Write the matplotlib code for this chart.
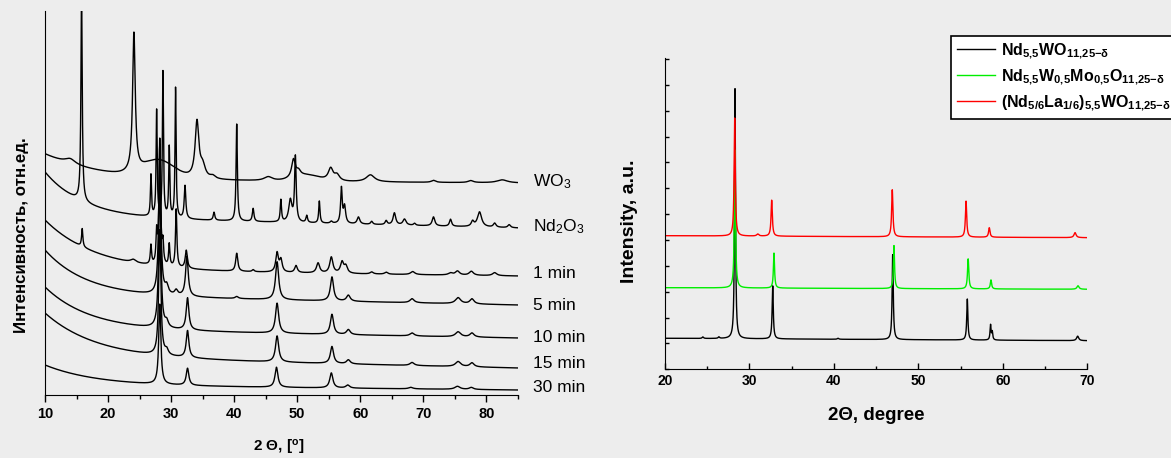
import matplotlib
matplotlib.use("Agg")
import matplotlib.pyplot as plt
from matplotlib.ticker import MultipleLocator, NullFormatter
import numpy as np

plt.rcParams['font.family'] = ['Liberation Sans', 'DejaVu Sans']
plt.rcParams['font.weight'] = 'bold'
plt.rcParams['axes.labelweight'] = 'bold'
plt.rcParams['mathtext.fontset'] = 'custom'
plt.rcParams['mathtext.rm'] = 'Liberation Sans:bold'
plt.rcParams['mathtext.it'] = 'Liberation Sans:bold:italic'
plt.rcParams['mathtext.bf'] = 'Liberation Sans:bold'

BG = '#ededed'

# ---- left panel: patterns vs milling time (values in plot units, peaks = (2theta, height, hwhm))
left_labels = ['WO$\\mathregular{_3}$', 'Nd$\\mathregular{_2}$O$\\mathregular{_3}$',
               '1 min', '5 min', '10 min', '15 min', '30 min']
left_label_y = [213, 168, 121, 90, 57, 31, 8]

# background: (level at 85 deg, excess at 10 deg, decay, tilt)
wo3_bg = (212, 26, 8.9, 3)
nd2o3_bg = (167, 45, 6.0, 11)
min1_bg = (119, 50, 8.0, 6)
min5_bg = (90, 45, 6.5, 10)
min10_bg = (57, 42, 7.0, 9)
min15_bg = (27, 44, 8.0, 11)
min30_bg = (5, 20, 8.0, 5)

# broad amorphous humps (2theta, height, sigma)
wo3_humps = [(28.0, 17, 2.5), (51.5, 6, 2.0)]

wo3_peaks = [(14.0, 5, 1.0), (24.1, 138, 0.25), (34.1, 56, 0.35), (35.0, 12, 0.5),
             (36.6, 3, 0.5), (45.4, 4, 0.8), (49.4, 18, 0.35), (50.2, 5, 0.4),
             (55.3, 12, 0.45), (56.3, 6, 0.5), (61.6, 7, 0.8), (71.6, 2, 0.4),
             (77.5, 2, 0.5), (82.5, 3, 1.0)]
nd2o3_peaks = [(15.8, 210, 0.12), (26.8, 41, 0.1), (27.7, 106, 0.1), (28.7, 145, 0.1),
               (29.7, 70, 0.1), (30.7, 130, 0.1), (32.2, 33, 0.15), (36.8, 8, 0.15),
               (40.4, 97, 0.12), (43.0, 13, 0.15), (47.4, 22, 0.12), (48.9, 22, 0.3),
               (49.7, 65, 0.15), (51.5, 7, 0.15), (53.5, 22, 0.12), (55.4, 2, 0.2),
               (57.0, 35, 0.15), (57.5, 17, 0.2), (59.7, 7, 0.25), (61.8, 3, 0.2),
               (64.1, 4, 0.2), (65.4, 12, 0.25), (67.0, 6, 0.3), (68.6, 2, 0.2),
               (71.6, 9, 0.25), (74.3, 7, 0.2), (77.8, 5, 0.25), (78.9, 15, 0.4),
               (81.3, 4, 0.25), (83.6, 3, 0.25)]
min1_peaks = [(15.9, 18, 0.12), (24.0, 3, 0.5), (26.8, 19, 0.12), (27.7, 30, 0.12),
              (28.2, 125, 0.15), (28.7, 20, 0.12), (29.7, 22, 0.12), (30.8, 58, 0.13),
              (32.4, 18, 0.2), (40.4, 18, 0.2), (43.0, 2, 0.2), (46.8, 19, 0.25),
              (47.4, 12, 0.25), (49.8, 7, 0.25), (53.3, 10, 0.3), (55.4, 16, 0.3),
              (57.1, 11, 0.3), (57.7, 7, 0.3), (61.8, 2, 0.3), (64.1, 2, 0.3),
              (68.3, 3, 0.4), (74.3, 2, 0.4), (75.4, 4, 0.4), (77.6, 4, 0.4), (81.3, 3, 0.4)]
min5_peaks = [(28.2, 150, 0.2), (29.3, 8, 0.3), (30.8, 5, 0.3), (32.5, 40, 0.25),
              (40.4, 2, 0.3), (46.8, 38, 0.3), (55.5, 24, 0.3), (58.1, 6, 0.35),
              (68.2, 4, 0.4), (75.5, 6, 0.5), (77.7, 5, 0.4)]
min10_peaks = [(28.2, 150, 0.2), (29.3, 6, 0.3), (32.6, 32, 0.25), (46.8, 30, 0.3),
               (55.5, 20, 0.3), (58.1, 5, 0.35), (68.2, 3, 0.4), (75.5, 5, 0.5),
               (77.7, 4, 0.4)]
min15_peaks = [(28.2, 125, 0.2), (29.3, 5, 0.3), (32.6, 27, 0.25), (46.8, 26, 0.3),
               (55.5, 17, 0.3), (58.1, 4, 0.35), (68.2, 3, 0.4), (75.5, 5, 0.5),
               (77.7, 4, 0.4)]
min30_peaks = [(28.2, 80, 0.2), (32.6, 17, 0.25), (46.7, 20, 0.28), (55.4, 15, 0.3),
               (58.0, 3, 0.35), (68.0, 1.5, 0.4), (75.4, 3, 0.5), (77.6, 2, 0.4)]

# ---- right panel: three single-phase samples
right_names = ['$\\mathregular{Nd_{5{,}5}WO_{11{,}25{-}δ}}$',
               '$\\mathregular{Nd_{5{,}5}W_{0{,}5}Mo_{0{,}5}O_{11{,}25{-}δ}}$',
               '$\\mathregular{(Nd_{5/6}La_{1/6})_{5{,}5}WO_{11{,}25{-}δ}}$']
right_colors = ['#000000', '#00ee00', '#ff0000']
# baseline at 20 deg and at 70 deg
black_base = (31.0, 28.6)
green_base = (81.6, 80.0)
red_base = (133.6, 131.6)
black_peaks = [(24.5, 1.5, 0.1), (26.4, 1.5, 0.1), (28.31, 250, 0.07), (32.77, 53, 0.08),
               (40.5, 1, 0.1), (46.97, 85, 0.08), (55.8, 41, 0.08), (58.55, 15, 0.07),
               (58.75, 8, 0.07), (68.86, 4.5, 0.15)]
green_peaks = [(28.3, 138, 0.08), (32.92, 35, 0.08), (47.12, 43, 0.08), (55.9, 30, 0.09),
               (58.6, 9, 0.09), (68.9, 3.5, 0.15)]
red_peaks = [(28.27, 118, 0.08), (31.0, 2, 0.15), (32.65, 36, 0.09), (46.92, 47, 0.09),
             (55.65, 36, 0.09), (58.4, 9.5, 0.1), (68.55, 5, 0.15)]


def peak_sum(x, peaks):
    y = np.zeros_like(x)
    for pos, h, w in peaks:
        y += h / (1 + ((x - pos) / w) ** 2)
    return y


def background(x, params):
    level, amp, tau, tilt = params
    return level + amp * np.exp(-(x - 10) / tau) + tilt * (85 - x) / 75


def humps(x, items):
    y = np.zeros_like(x)
    for pos, h, s in items:
        y += h * np.exp(-0.5 * ((x - pos) / s) ** 2)
    return y


fig = plt.figure(figsize=(11.71, 4.58), dpi=100, facecolor=BG)

# left panel
ax1 = fig.add_axes([45 / 1171, 1 - 395 / 458, 473 / 1171, 384 / 458])
ax1.set_facecolor('none')
x1 = np.arange(10, 85.001, 0.02)
left_sets = [(wo3_bg, wo3_peaks, wo3_humps), (nd2o3_bg, nd2o3_peaks, []),
             (min1_bg, min1_peaks, []), (min5_bg, min5_peaks, []),
             (min10_bg, min10_peaks, []), (min15_bg, min15_peaks, []),
             (min30_bg, min30_peaks, [])]
for bg, pk, hm in left_sets:
    y = background(x1, bg) + humps(x1, hm) + peak_sum(x1, pk)
    ax1.plot(x1, y, color='black', lw=1.0)

for lab, ly in zip(left_labels, left_label_y):
    ax1.text(87.3, ly, lab, fontsize=12.5, fontweight='normal', va='center',
             ha='left', clip_on=False)

ax1.set_xlim(10, 85)
ax1.set_ylim(0, 384)
ax1.spines['top'].set_visible(False)
ax1.spines['right'].set_visible(False)
ax1.xaxis.set_major_locator(MultipleLocator(10))
ax1.xaxis.set_minor_locator(MultipleLocator(5))
ax1.tick_params(axis='x', which='major', direction='out', length=5, width=1, labelsize=10.5)
ax1.tick_params(axis='x', which='minor', direction='out', length=3, width=1)
ax1.set_yticks([])
ax1.set_xlabel('2 $\\mathit{Θ}$, [$\\mathregular{^o}$]', fontsize=11)
ax1.xaxis.set_label_coords(0.495, -0.112)
ax1.set_ylabel('Интенсивность, отн.ед.', fontsize=12.2)
ax1.yaxis.set_label_coords(-0.034, 0.417)

# right panel
ax2 = fig.add_axes([664.8 / 1171, 1 - 369.3 / 458, 422.5 / 1171, 310.8 / 458])
ax2.set_facecolor('none')
x2 = np.arange(20, 70.001, 0.01)
lines = []
for name, col, base, pk in zip(right_names, right_colors,
                               [black_base, green_base, red_base],
                               [black_peaks, green_peaks, red_peaks]):
    y = base[0] + (base[1] - base[0]) * (x2 - 20) / 50 + peak_sum(x2, pk)
    ln, = ax2.plot(x2, y, color=col, lw=1.0, label=name)
    lines.append(ln)

ax2.set_xlim(20, 70)
ax2.set_ylim(0, 310.8)
ax2.spines['top'].set_visible(False)
ax2.spines['right'].set_visible(False)
ax2.xaxis.set_major_locator(MultipleLocator(10))
ax2.xaxis.set_minor_locator(MultipleLocator(5))
ax2.yaxis.set_major_locator(MultipleLocator(25.85))
ax2.yaxis.set_major_formatter(NullFormatter())
ax2.tick_params(axis='x', which='major', direction='in', length=4, width=1, labelsize=10)
ax2.tick_params(axis='x', which='minor', direction='in', length=2.5, width=1)
ax2.tick_params(axis='y', which='major', direction='in', length=3, width=1)
ax2.set_xlabel('2Θ, degree', fontsize=13.5)
ax2.xaxis.set_label_coords(0.5, -0.12)
ax2.set_ylabel('Intensity, a.u.', fontsize=14)
ax2.yaxis.set_label_coords(-0.063, 0.475)

leg = fig.legend(handles=lines, loc='upper left', bbox_to_anchor=(951 / 1171, 1 - 36 / 458),
                 fontsize=11.5, frameon=True, fancybox=False, edgecolor='black',
                 facecolor='white', framealpha=1, handlelength=2.4, handletextpad=0.4,
                 borderpad=0.35, labelspacing=0.4, borderaxespad=0)
leg.get_frame().set_linewidth(1.2)

fig.savefig('out.png', dpi=100, facecolor=BG)
